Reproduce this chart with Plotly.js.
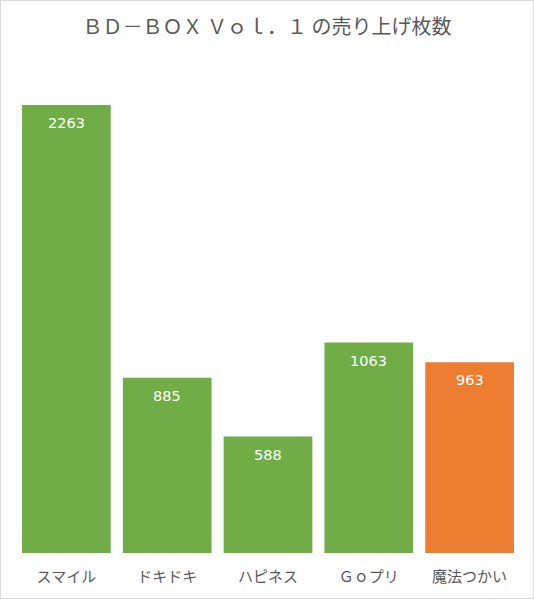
<!DOCTYPE html>
<html>
<head>
<meta charset="utf-8">
<script src="https://cdn.plot.ly/plotly-3.0.1.min.js"></script>
<style>
  html, body { margin: 0; padding: 0; background: #fff; }
  #chart { width: 534px; height: 599px; box-sizing: border-box; border: 1px solid #d9d9d9; }
</style>
</head>
<body>
<div id="chart"></div>
<script>
// BD-BOX sales, first volume
var series = ['スマイル', 'ドキドキ', 'ハピネス', 'Ｇｏプリ', '魔法つかい']
var sales = [2263, 885, 588, 1063, 963]
var barColors = ['#70ad47', '#70ad47', '#70ad47', '#70ad47', '#ed7d31']

var trace = {
	x: series,
	y: sales,
	type: 'bar',
	marker: { color: barColors },
	hoverinfo: 'none'
};

// value labels just under the top of each bar
var labels = []
for (var i = 0; i < series.length; i++) {
	labels.push({
		x: series[i], y: sales[i], text: String(sales[i]),
		showarrow: false, yanchor: 'middle', yshift: -18,
		font: { family: 'DejaVu Sans', size: 14.5, color: '#ffffff' }
	})
}

var layout = {
	width: 532,
	height: 597,
	margin: { l: 15, r: 13, t: 57, b: 45 },
	paper_bgcolor: '#ffffff',
	plot_bgcolor: '#ffffff',
	bargap: 0.12,
	showlegend: false,
	annotations: labels,
	title: {
		text: 'ＢＤ－ＢＯＸ Ｖｏｌ．１ の売り上げ枚数',
		x: 0.5, xanchor: 'center',
		y: 0.957, yanchor: 'middle',
		font: { family: 'Noto Sans CJK JP', size: 20, color: '#595959' }
	},
	xaxis: {
		showline: false, showgrid: false, zeroline: false, ticks: '',
		tickfont: { family: 'Noto Sans CJK JP', size: 15, color: '#595959' },
		ticklabelstandoff: 13
	},
	yaxis: {
		range: [0, 2500], visible: false, showgrid: false, zeroline: false
	}
};

Plotly.newPlot('chart', [trace], layout, { displayModeBar: false, staticPlot: true });
</script>
</body>
</html>
